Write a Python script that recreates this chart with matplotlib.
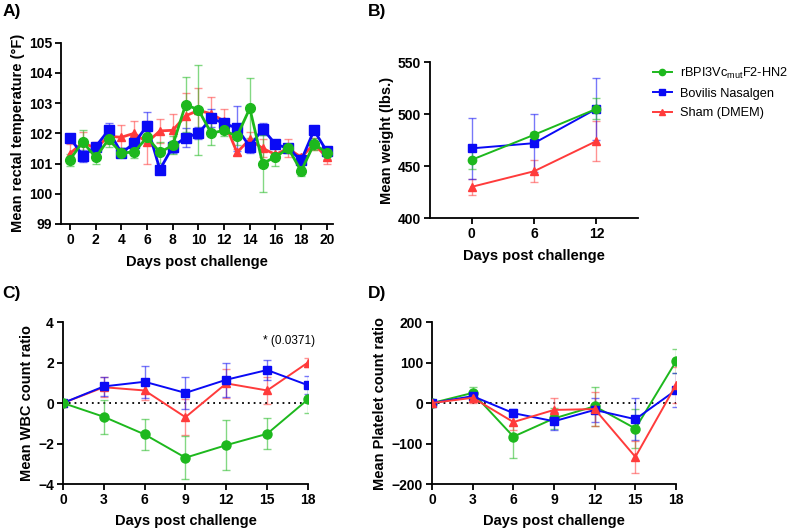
import matplotlib
matplotlib.use("Agg")
import matplotlib.pyplot as plt
from matplotlib.lines import Line2D
from matplotlib.colors import to_rgba

plt.rcParams['font.family'] = ['Liberation Sans', 'DejaVu Sans']
plt.rcParams['mathtext.fontset'] = 'custom'
plt.rcParams['mathtext.rm'] = 'Liberation Sans'
plt.rcParams['mathtext.it'] = 'Liberation Sans'

# ---------------- data ----------------
groups = ["rBPI3Vc$_{\\mathrm{mut}}$F2-HN2", "Bovilis Nasalgen", "Sham (DMEM)"]

# Panel A: rectal temperature
temp_days = list(range(21))
temp_green = [101.13, 101.72, 101.2, 101.8, 101.35, 101.38, 101.87, 101.37, 101.6, 102.95, 102.78,
              102.0, 102.1, 101.9, 102.83, 101.0, 101.22, 101.5, 100.75, 101.65, 101.35]
temp_green_err = [0.2, 0.4, 0.2, 0.25, 0.15, 0.2, 0.2, 0.35, 0.3, 0.9, 1.5,
                  0.4, 0.2, 0.3, 1.0, 0.95, 0.3, 0.15, 0.15, 0.2, 0.2]
temp_blue = [101.86, 101.25, 101.56, 102.1, 101.35, 101.67, 102.25, 100.8, 101.56, 101.86, 102.0,
             102.5, 102.33, 102.17, 101.56, 102.15, 101.64, 101.5, 101.1, 102.1, 101.4]
temp_blue_err = [0.1, 0.2, 0.1, 0.25, 0.15, 0.2, 0.45, 0.15, 0.2, 0.3, 0.2,
                 0.3, 0.1, 0.75, 0.2, 0.2, 0.1, 0.1, 0.1, 0.1, 0.15]
temp_red = [101.33, 101.7, 101.5, 101.9, 101.87, 102.0, 101.7, 102.08, 102.1, 102.58, 102.76,
            102.65, 102.4, 101.37, 101.8, 101.5, 101.3, 101.5, 101.2, 101.65, 101.2]
temp_red_err = [0.3, 0.35, 0.2, 0.25, 0.4, 0.4, 0.7, 0.4, 0.55, 0.75, 0.75,
                0.55, 0.4, 0.1, 0.25, 0.3, 0.2, 0.3, 0.1, 0.2, 0.2]

# Panel B: weight
wt_days = [0, 6, 12]
wt_green = [456, 480, 505]
wt_green_err = [9, 3, 10]
wt_blue = [467, 472, 505]
wt_blue_err = [29, 28, 30]
wt_red = [430, 445, 474]
wt_red_err = [8, 10.5, 19]

# Panel C: WBC count ratio
cnt_days = [0, 3, 6, 9, 12, 15, 18]
wbc_green = [0, -0.68, -1.55, -2.7, -2.08, -1.52, 0.18]
wbc_green_err = [0, 0.83, 0.75, 1.05, 1.22, 0.77, 0.65]
wbc_blue = [0, 0.82, 1.05, 0.5, 1.15, 1.63, 0.88]
wbc_blue_err = [0, 0.45, 0.78, 0.78, 0.85, 0.48, 0.45]
wbc_red = [0, 0.78, 0.62, -0.7, 0.97, 0.62, 2.0]
wbc_red_err = [0, 0.5, 0.45, 0.88, 0.7, 0.68, 0.2]

# Panel D: platelet count ratio
plt_green = [0, 25, -83, -38, -8, -63, 103]
plt_green_err = [0, 15, 52, 25, 48, 48, 30]
plt_blue = [0, 17, -25, -45, -17, -40, 32]
plt_blue_err = [0, 12, 10, 22, 30, 52, 42]
plt_red = [0, 13, -47, -17, -15, -133, 45]
plt_red_err = [0, 12, 20, 30, 42, 40, 45]

GREEN = '#1DB81D'
BLUE = '#0A0AF5'
RED = '#FF3B3B'

# ---------------- figure ----------------
fig = plt.figure(figsize=(7.87, 5.28), dpi=100)

axA = fig.add_axes([0.0775, 0.576, 0.346, 0.343])
axB = fig.add_axes([0.5464, 0.587, 0.2643, 0.2955])
axC = fig.add_axes([0.080, 0.0833, 0.3113, 0.3068])
axD = fig.add_axes([0.549, 0.0833, 0.310, 0.3068])

TICK_FS = 10
LABEL_FS = 10.5


def series(ax, x, y, e, color, marker, ms, lw=1.6):
    ax.errorbar(x, y, yerr=e, fmt='none', ecolor=to_rgba(color, 0.55),
                elinewidth=1.0, capsize=3, capthick=1.0, zorder=2)
    ax.plot(x, y, color=color, marker=marker, ms=ms, lw=lw, zorder=3)


def style(ax):
    for s in ['top', 'right']:
        ax.spines[s].set_visible(False)
    for s in ['left', 'bottom']:
        ax.spines[s].set_linewidth(1.3)
    ax.tick_params(axis='both', direction='out', length=4, width=1.3, labelsize=TICK_FS, pad=2.5)
    for lab in ax.get_xticklabels() + ax.get_yticklabels():
        lab.set_fontweight('bold')


# Panel A
series(axA, temp_days, temp_red, temp_red_err, RED, '^', 6, 2)
series(axA, temp_days, temp_blue, temp_blue_err, BLUE, 's', 6.5, 2)
series(axA, temp_days, temp_green, temp_green_err, GREEN, 'o', 7, 2)
axA.set_xlim(-0.7, 20.5)
axA.set_ylim(99, 105)
axA.set_xticks(range(0, 21, 2))
axA.set_yticks(range(99, 106))
axA.set_xlabel('Days post challenge', fontsize=LABEL_FS, fontweight='bold', labelpad=6)
axA.set_ylabel('Mean rectal temperature (°F)', fontsize=LABEL_FS, fontweight='bold', labelpad=3)
style(axA)

# Panel B
series(axB, wt_days, wt_red, wt_red_err, RED, '^', 5.5, 1.4)
series(axB, wt_days, wt_blue, wt_blue_err, BLUE, 's', 6, 1.4)
series(axB, wt_days, wt_green, wt_green_err, GREEN, 'o', 6, 1.4)
axB.set_xlim(-4, 16)
axB.set_ylim(400, 550)
axB.set_xticks(wt_days)
axB.set_yticks([400, 450, 500, 550])
axB.set_xlabel('Days post challenge', fontsize=LABEL_FS, fontweight='bold', labelpad=6)
axB.set_ylabel('Mean weight (lbs.)', fontsize=LABEL_FS, fontweight='bold', labelpad=3)
style(axB)

# Panel C
axC.plot([0, 18], [0, 0], color='black', ls=(0, (1, 2.2)), lw=1.3, zorder=1)
series(axC, cnt_days, wbc_red, wbc_red_err, RED, '^', 6, 1.4)
series(axC, cnt_days, wbc_blue, wbc_blue_err, BLUE, 's', 6, 1.4)
series(axC, cnt_days, wbc_green, wbc_green_err, GREEN, 'o', 6.5, 1.4)
axC.set_xlim(0, 18)
axC.set_ylim(-4, 4)
axC.set_xticks(cnt_days)
axC.set_yticks([-4, -2, 0, 2, 4])
axC.set_xlabel('Days post challenge', fontsize=LABEL_FS, fontweight='bold', labelpad=5)
axC.set_ylabel('Mean WBC count ratio', fontsize=LABEL_FS, fontweight='bold', labelpad=3)
axC.text(14.7, 3.05, '* (0.0371)', fontsize=8.5, ha='left', va='center', clip_on=False)
style(axC)

# Panel D
axD.plot([0, 18], [0, 0], color='black', ls=(0, (1, 2.2)), lw=1.3, zorder=1)
series(axD, cnt_days, plt_green, plt_green_err, GREEN, 'o', 6.5, 1.4)
series(axD, cnt_days, plt_blue, plt_blue_err, BLUE, 's', 6, 1.4)
series(axD, cnt_days, plt_red, plt_red_err, RED, '^', 6, 1.4)
axD.set_xlim(0, 18)
axD.set_ylim(-200, 200)
axD.set_xticks(cnt_days)
axD.set_yticks([-200, -100, 0, 100, 200])
axD.set_xlabel('Days post challenge', fontsize=LABEL_FS, fontweight='bold', labelpad=5)
axD.set_ylabel('Mean Platelet count ratio', fontsize=LABEL_FS, fontweight='bold', labelpad=3)
style(axD)

# Panel letters
fig.text(0.003, 0.978, 'A)', fontsize=12.5, fontweight='bold', va='center', ha='left')
fig.text(0.468, 0.978, 'B)', fontsize=12.5, fontweight='bold', va='center', ha='left')
fig.text(0.003, 0.445, 'C)', fontsize=12.5, fontweight='bold', va='center', ha='left')
fig.text(0.468, 0.445, 'D)', fontsize=12.5, fontweight='bold', va='center', ha='left')

# Legend
handles = [Line2D([], [], color=GREEN, marker='o', ms=4.5, lw=1.4),
           Line2D([], [], color=BLUE, marker='s', ms=4.5, lw=1.4),
           Line2D([], [], color=RED, marker='^', ms=4.5, lw=1.4)]
fig.legend(handles, groups, loc='upper left', bbox_to_anchor=(0.823, 0.885),
           frameon=False, fontsize=9.2, handlelength=1.5, handletextpad=0.6,
           labelspacing=0.55, borderaxespad=0)

fig.savefig('out.png', dpi=100)
